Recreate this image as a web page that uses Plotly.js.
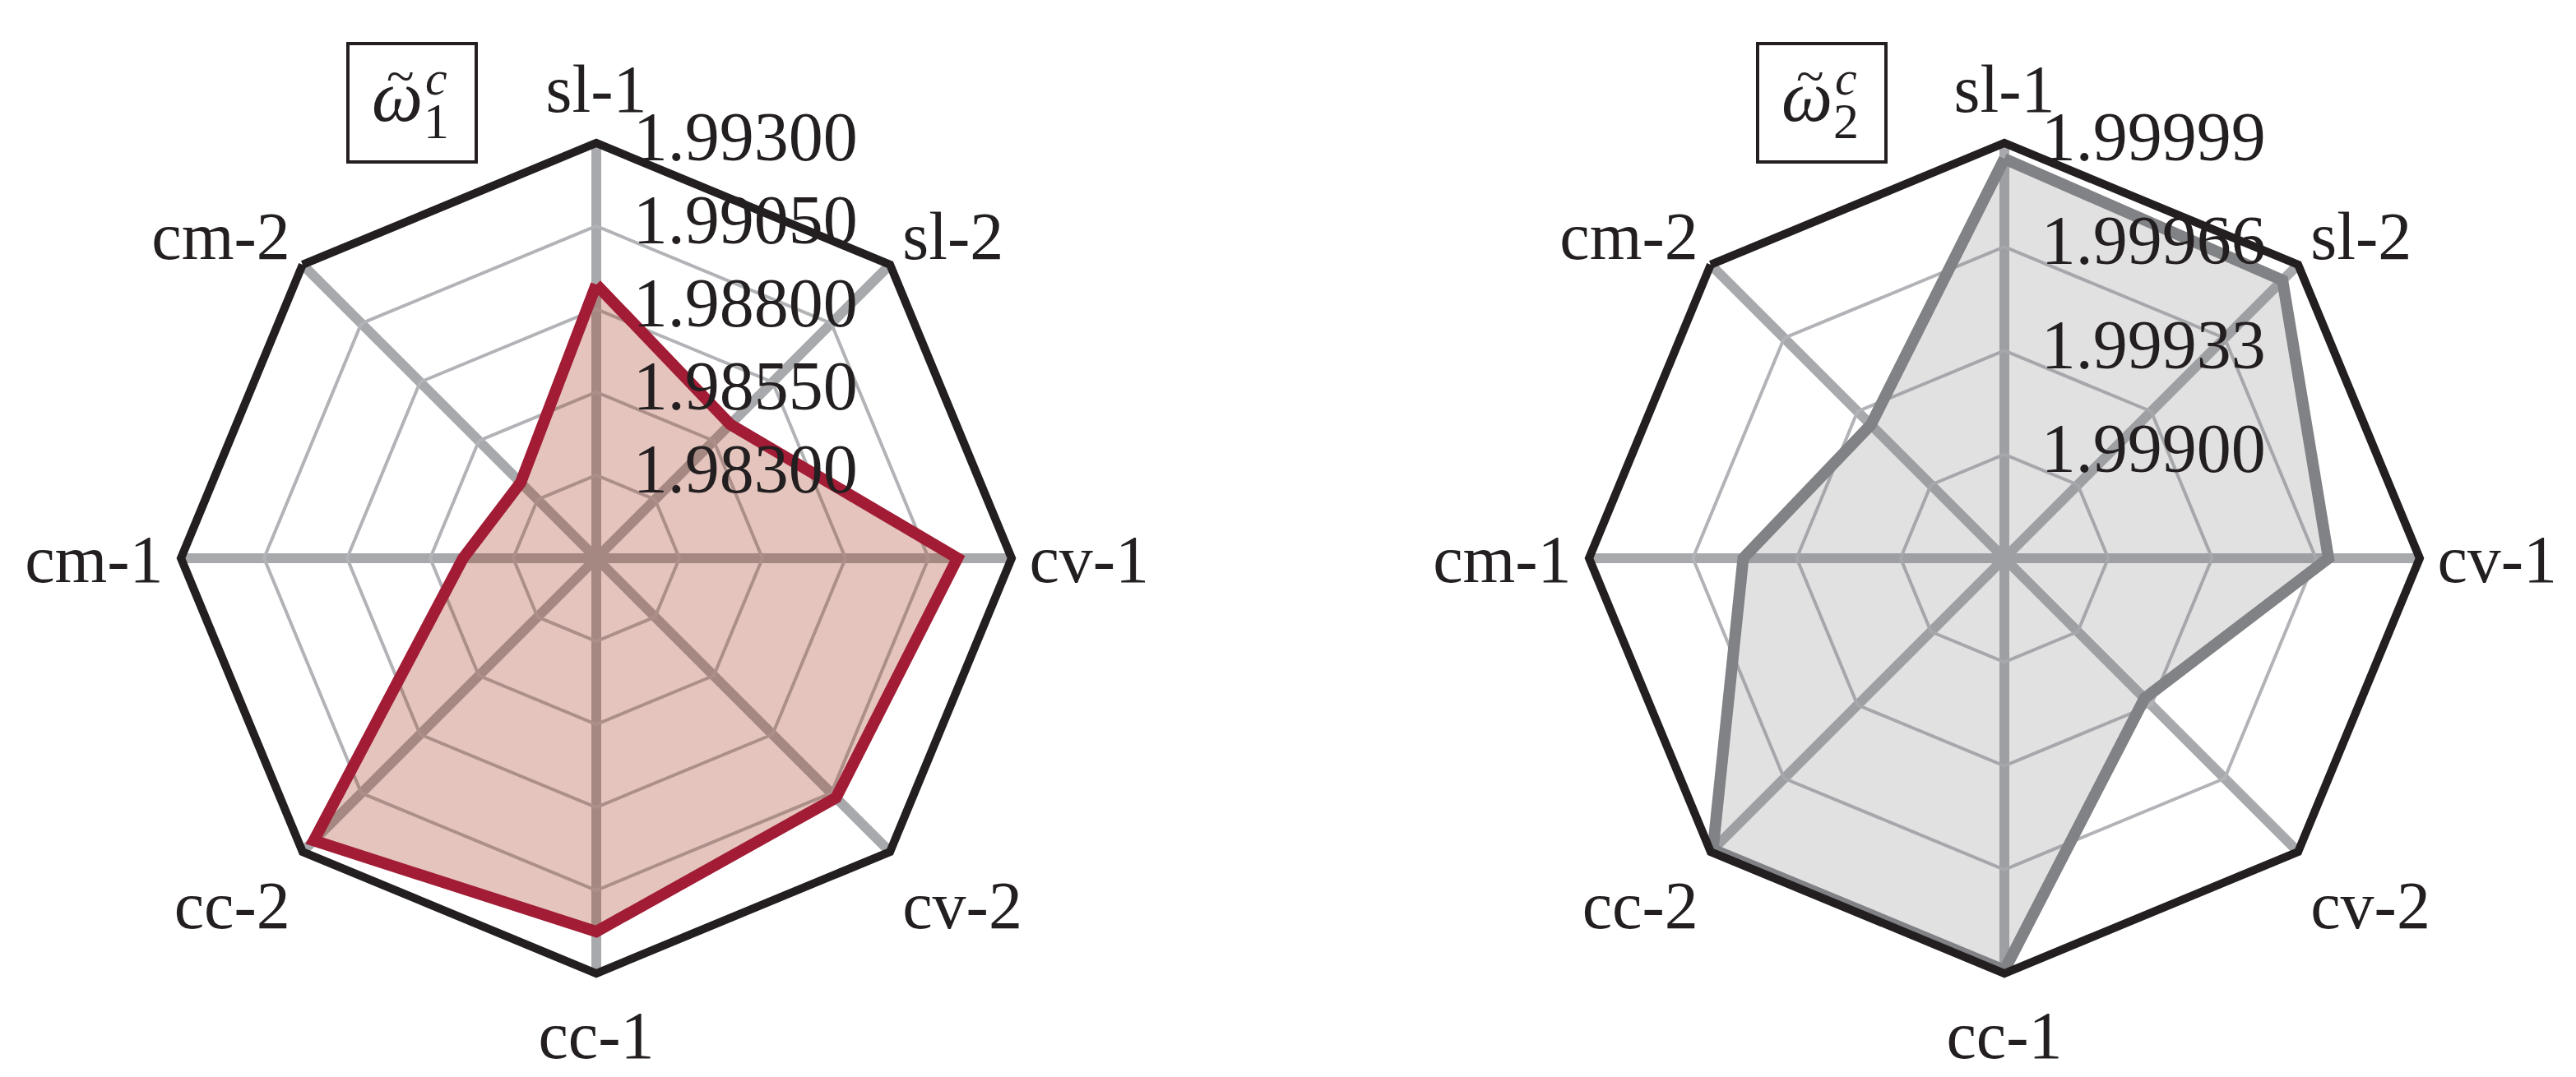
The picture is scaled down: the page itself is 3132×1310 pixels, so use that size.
<!DOCTYPE html>
<html>
<head>
<meta charset="utf-8">
<script src="https://cdn.plot.ly/plotly-3.0.1.min.js"></script>
<style>
  html, body { margin: 0; padding: 0; background: #fff; }
  #chart { width: 3132px; height: 1310px; }
</style>
</head>
<body>
<div id="chart"></div>
<script>
// spokes of both radar charts, clockwise from the top
const categories = ['sl-1', 'sl-2', 'cv-1', 'cv-2', 'cc-1', 'cc-2', 'cm-1', 'cm-2'];

// values
const omega1 = [1.98874, 1.98620, 1.99137, 1.99070, 1.99174, 1.99252, 1.98451, 1.98372];
const omega2 = [1.99994, 1.99992, 1.99970, 1.99930, 1.99998, 1.99998, 1.99950, 1.99927];

// radial ticks and ranges
const ticks1 = [1.98300, 1.98550, 1.98800, 1.99050, 1.99300];
const ticks2 = [1.99900, 1.99933, 1.99966, 1.99999];
const range1 = [1.98050, 1.99300];
const range2 = [1.99867, 1.99999];

const W = 3132, H = 1310;
const FONT = 'Liberation Serif, Times New Roman, serif';
const INK = '#231f20';

// close the polygon
function closed(arr) { return arr.concat([arr[0]]); }

function polarLayout(domainX, domainY, range, ticks) {
    return {
        domain: {x: domainX, y: domainY},
        gridshape: 'linear',
        bgcolor: 'rgba(0,0,0,0)',
        angularaxis: {
            type: 'category',
            categoryarray: categories,
            direction: 'clockwise',
            rotation: 90,
            showline: true,
            linecolor: INK,
            linewidth: 10,
            showgrid: true,
            gridcolor: '#a7a9ac',
            gridwidth: 12,
            ticks: '',
            tickfont: {family: FONT, size: 82, color: INK}
        },
        radialaxis: {
            range: range,
            angle: 90,
            tickvals: ticks,
            showticklabels: false, // labels come from the text traces below
            showline: false,
            showgrid: true,
            gridcolor: '#b1b3b6',
            gridwidth: 4,
            ticks: ''
        }
    };
}

// pixel -> paper helpers for the square domains
function dx(cx, r) { return [(cx - r) / W, (cx + r) / W]; }
function dy(cy, r) { return [(H - cy - r) / H, (H - cy + r) / H]; }

function radarTrace(subplot, values, line, fill) {
    return {
        type: 'scatterpolar',
        subplot: subplot,
        r: closed(values),
        theta: closed(categories),
        mode: 'lines',
        fill: 'toself',
        fillcolor: fill,
        line: {color: line, width: 14},
        hoverinfo: 'skip',
        showlegend: false
    };
}

// radial tick labels along the sl-1 spoke, centred on each ring
function tickTrace(subplot, ticks) {
    return {
        type: 'scatterpolar',
        subplot: subplot,
        r: ticks,
        theta: ticks.map(() => categories[0]),
        mode: 'markers+text',
        marker: {size: 70, color: 'rgba(0,0,0,0)'},
        text: ticks.map(v => v.toFixed(5)),
        textposition: 'middle right',
        textfont: {family: FONT, size: 84, color: INK},
        hoverinfo: 'skip',
        showlegend: false,
        cliponaxis: false
    };
}

const data = [
    radarTrace('polar', omega1, '#a21c35', 'rgba(165,60,35,0.30)'),
    radarTrace('polar2', omega2, '#808285', 'rgba(128,130,133,0.24)'),
    tickTrace('polar', ticks1),
    tickTrace('polar2', ticks2)
];

function label(text, px, py, size, italic) {
    return {
        xref: 'paper', yref: 'paper',
        x: px / W, y: 1 - py / H,
        xanchor: 'center', yanchor: 'middle',
        text: italic ? '<i>' + text + '</i>' : text,
        showarrow: false,
        font: {family: FONT, size: size, color: INK}
    };
}

function box(cx) {
    return {
        type: 'rect', xref: 'paper', yref: 'paper',
        x0: (cx - 78) / W, x1: (cx + 78) / W,
        y0: 1 - 197 / H, y1: 1 - 53 / H,
        line: {color: INK, width: 4},
        fillcolor: 'rgba(0,0,0,0)'
    };
}

// boxed symbol: omega, tilde on top, c above and index below
function symbol(cx, index) {
    return [
        label('\u03c9', cx - 18, 117, 88, true),
        label('~', cx - 14, 92, 62, false),
        label('c', cx + 29, 95, 60, true),
        label(index, cx + 29, 147, 62, false)
    ];
}

const layout = {
    width: W,
    height: H,
    margin: {l: 0, r: 0, t: 0, b: 0},
    paper_bgcolor: '#ffffff',
    showlegend: false,
    polar: polarLayout(dx(725, 505), dy(679, 505), range1, ticks1),
    polar2: polarLayout(dx(2437, 505), dy(679, 505), range2, ticks2),
    shapes: [box(501), box(2215)],
    annotations: symbol(501, '1').concat(symbol(2215, '2'))
};

Plotly.newPlot('chart', data, layout, {staticPlot: true, displayModeBar: false});
</script>
</body>
</html>
